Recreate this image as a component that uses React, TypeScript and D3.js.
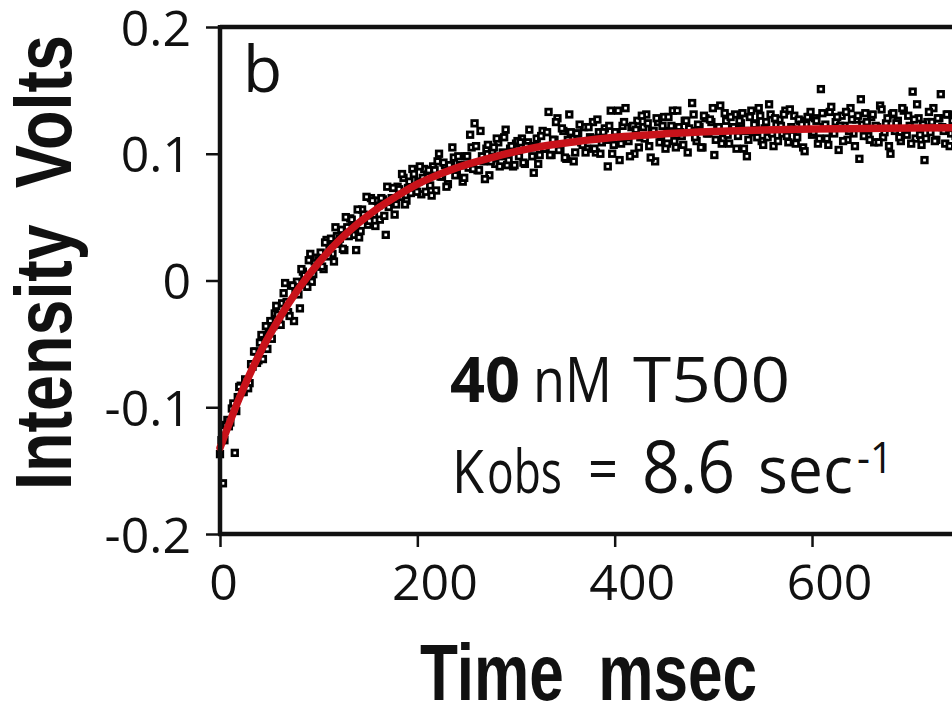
import React, { useRef, useEffect } from 'react';
import * as d3 from 'd3';

// Stopped-flow trace, panel b: 40 nM T500. Intensity in millivolts.
// Samples every 1.5 ms, stored as two interleaved runs (t = 0, 3, 6 ... and t = 1.5, 4.5 ...).
const SAMPLE_MS = 3;
const EVEN_MV = [
  -137, -160, -114, -115, -101, -136, -92, -83, -88, -80,
  -81, -68, -56, -63, -43, -47, -54, -32, -36, -20,
  -34, -18, -2, -25, -4, -32, -1, -22, 7, -3,
  16, -1, 15, 11,
  22, 9, 32, 27, 21, 42, 29, 40, 24, 42,
  49, 36, 24, 34, 56, 51, 44, 65, 52, 63,
  48, 64, 36, 58, 65, 52, 74, 66, 81, 63,
  78, 88, 71, 78, 68, 88, 82, 75, 90, 71,
  100, 82, 91, 76, 91, 97, 84, 91, 78, 98,
  89, 105, 124, 87, 118, 94, 104, 83, 102, 92,
  109, 98, 113, 91, 104, 90, 108,
  98, 112, 92, 109, 105, 85, 112, 99, 118, 104,
  133, 99, 111, 128, 103, 118, 96, 131, 112, 101,
  116, 109, 121, 104, 113, 125, 101, 117, 109, 120,
  90, 134, 107, 117, 95, 122, 136, 110, 121, 100,
  126, 113, 121, 131, 106, 118, 94, 125, 110, 129,
  108, 118, 134, 105, 121, 114, 126, 101, 118, 131,
  110, 121, 105, 128, 116, 125, 99, 121, 138, 112,
  126, 108, 120, 131, 114, 124, 104, 98, 129, 117,
  124, 136, 110, 120, 113, 131, 106, 123, 127, 116,
  134, 109, 121, 130, 113, 126, 105, 123, 129, 115,
  128, 108, 151, 121, 112, 133, 117, 125, 103, 130,
  122, 111, 136, 116, 127, 96, 123, 132, 114, 129,
  109, 121, 138, 113, 124, 106, 131, 118, 126, 110,
  134, 115, 122, 149, 112, 128, 107, 95, 125, 117,
  136, 111, 128, 121, 108, 131, 116, 124,
];
const ODD_MV = [
  -126, -126, -110, -112, -97, -103, -84, -88, -78, -85,
  -66, -56, -65, -49, -62, -36, -42, -46, -26, -27,
  -35, -10, -17, -28, -4, -9, -11, 9, 4, -5,
  21, 5, 18, 16,
  11, 30, 19, 33, 15, 35, 33, 25, 50, 35,
  48, 42, 56, 39, 52, 66, 47, 63, 43, 59,
  65, 51, 74, 62, 73, 60, 72, 84, 60, 73,
  69, 84, 70, 90, 81, 70, 87, 67, 87, 94,
  82, 93, 74, 91, 105, 83, 98, 91, 81, 98,
  115, 88, 106, 87, 98, 80, 107, 94, 105, 112,
  90, 101, 119, 95, 106, 91, 110,
  109, 93, 106, 119, 98, 106, 92, 114, 104, 117,
  99, 111, 125, 103, 120, 97, 111, 117, 94, 116,
  123, 107, 101, 121, 112, 104, 127, 100, 117, 111,
  122, 100, 117, 134, 108, 125, 113, 98, 122, 119,
  105, 130, 112, 124, 97, 118, 128, 109, 122, 104,
  129, 122, 110, 134, 117, 107, 126, 120, 140, 113,
  123, 105, 130, 116, 127, 136, 111, 121, 108, 132,
  115, 129, 121, 104, 126, 132, 118, 111, 134, 123,
  113, 130, 107, 125, 139, 116, 128, 110, 122, 131,
  114, 135, 119, 108, 127, 123, 102, 129, 133, 117,
  126, 112, 132, 123, 107, 137, 116, 129, 122, 110,
  133, 118, 127, 106, 130, 143, 114, 125, 111, 131,
  122, 109, 135, 117, 128, 100, 132, 124, 113, 136,
  119, 130, 108, 127, 139, 115, 123, 112, 133, 125,
  110, 128, 147, 118, 131, 106, 126, 114,
];

// single exponential fit (red line)
const FIT_TIME_MS = [0, 20, 40, 60, 80, 100, 120, 140, 160, 180, 200, 240, 280, 320, 360, 400, 450, 500, 550, 600, 700, 800, 1000];
const FIT_VOLTS = [-0.132, -0.092, -0.058, -0.030, -0.006, 0.014, 0.031, 0.045, 0.057, 0.067, 0.076, 0.089, 0.098, 0.105, 0.1095, 0.113, 0.1157, 0.1175, 0.1187, 0.1195, 0.1204, 0.1208, 0.121];

const X_TICKS = [0, 200, 400, 600];
const Y_TICKS = [-0.2, -0.1, 0, 0.1, 0.2];
const Y_TICK_LABELS = ['-0.2', '-0.1', '0', '0.1', '0.2'];

const TICK_FONT = '"Open Sans", "DejaVu Sans", sans-serif';
const TITLE_FONT = '"Liberation Sans", Arial, sans-serif';

const App = () => {
  const svgRef = useRef<SVGSVGElement>(null);

  useEffect(() => {
    document.body.style.margin = '0';
    const width = 952;
    const height = 717;

    const svg = d3.select(svgRef.current)
      .attr('width', width)
      .attr('height', height);
    svg.selectAll('*').remove();

    const x = d3.scaleLinear().domain([0, 1000]).range([220, 220 + 986.7]);
    const y = d3.scaleLinear().domain([-0.2, 0.2]).range([534, 27]);

    const points = [
      ...EVEN_MV.map((v, i) => ({ t: i * SAMPLE_MS, v: v / 1000 })),
      ...ODD_MV.map((v, i) => ({ t: i * SAMPLE_MS + SAMPLE_MS / 2, v: v / 1000 })),
    ];
    const fit = FIT_TIME_MS.map((t, i) => ({ t, v: FIT_VOLTS[i] }));

    // data points: small open squares, heavy outline
    svg.append('g')
      .selectAll('rect')
      .data(points)
      .enter().append('rect')
      .attr('x', d => x(d.t) - 2.75)
      .attr('y', d => y(d.v) - 2.75)
      .attr('width', 5.5)
      .attr('height', 5.5)
      .attr('fill', '#fff')
      .attr('stroke', '#000')
      .attr('stroke-width', 2.8);

    // fitted curve on top
    const line = d3.line<{ t: number; v: number }>()
      .x(d => x(d.t))
      .y(d => y(d.v))
      .curve(d3.curveMonotoneX);
    svg.append('path')
      .datum(fit)
      .attr('d', line)
      .attr('fill', 'none')
      .attr('stroke', '#c8121a')
      .attr('stroke-width', 7.5)
      .attr('stroke-linecap', 'round');

    // frame (top, left, bottom)
    const frame = svg.append('g').attr('stroke', '#111').attr('stroke-width', 4.5).attr('fill', 'none');
    frame.append('line').attr('x1', x(0)).attr('x2', width).attr('y1', y(0.2)).attr('y2', y(0.2));
    frame.append('line').attr('x1', x(0)).attr('x2', x(0)).attr('y1', y(0.2) - 2).attr('y2', y(-0.2));
    frame.append('line').attr('x1', x(0) - 2).attr('x2', width).attr('y1', y(-0.2)).attr('y2', y(-0.2));

    // y axis
    const yAxis = svg.append('g')
      .attr('transform', `translate(${x(0)},0)`)
      .call(d3.axisLeft(y)
        .tickValues(Y_TICKS)
        .tickSize(14)
        .tickPadding(15)
        .tickFormat((d, i) => Y_TICK_LABELS[i]));
    yAxis.select('.domain').remove();
    yAxis.selectAll('line').attr('stroke', '#111').attr('stroke-width', 2.5);
    yAxis.selectAll('text')
      .attr('fill', '#111')
      .attr('dy', '0.36em')
      .style('font-family', TICK_FONT)
      .style('font-size', '50px');

    // x axis
    const xAxis = svg.append('g')
      .attr('transform', `translate(0,${y(-0.2)})`)
      .call(d3.axisBottom(x)
        .tickValues(X_TICKS)
        .tickSize(13)
        .tickPadding(17)
        .tickFormat(d3.format('d')));
    xAxis.select('.domain').remove();
    xAxis.selectAll('line').attr('stroke', '#111').attr('stroke-width', 2.5);
    xAxis.selectAll('text')
      .attr('fill', '#111')
      .attr('dx', d => (d === 0 ? 3 : 17))
      .style('font-family', TICK_FONT)
      .style('font-size', '50px');

    // axis titles
    svg.append('text')
      .attr('x', 420)
      .attr('y', 700)
      .attr('textLength', 337)
      .attr('lengthAdjust', 'spacingAndGlyphs')
      .style('font-family', TITLE_FONT)
      .style('font-weight', 'bold')
      .style('font-size', '80px')
      .attr('fill', '#111')
      .text('Time\u00a0\u00a0msec');

    svg.append('text')
      .attr('transform', 'translate(71,490) rotate(-90)')
      .attr('textLength', 455)
      .attr('lengthAdjust', 'spacingAndGlyphs')
      .style('font-family', TITLE_FONT)
      .style('font-weight', 'bold')
      .style('font-size', '80px')
      .attr('fill', '#111')
      .text('Intensity\u00a0\u00a0Volts');

    // panel letter
    svg.append('text')
      .attr('x', 243)
      .attr('y', 92)
      .style('font-family', TICK_FONT)
      .style('font-size', '64px')
      .attr('fill', '#111')
      .text('b');

    // annotation
    const note = (txt: string, x0: number, y0: number, w: number, size: number, bold = false) => {
      svg.append('text')
        .attr('x', x0)
        .attr('y', y0)
        .attr('textLength', w)
        .attr('lengthAdjust', 'spacingAndGlyphs')
        .style('font-family', TICK_FONT)
        .style('font-weight', bold ? 'bold' : 'normal')
        .style('font-size', `${size}px`)
        .attr('fill', '#111')
        .text(txt);
    };
    note('40', 450, 402, 70, 63, true);
    note('nM', 533, 402, 79, 63);
    note('T500', 633, 402, 157, 63);
    note('K', 452, 493, 32, 60);
    note('obs', 487, 493, 75, 60);
    note('=', 588, 490, 30, 60);
    note('8.6', 642, 493, 93, 74);
    note('sec', 758, 493, 95, 66);
    note('-1', 857, 473, 36, 44);
  }, []);

  return (
    <div>
      <svg ref={svgRef} style={{ display: 'block' }}></svg>
    </div>
  );
};

export default App;
